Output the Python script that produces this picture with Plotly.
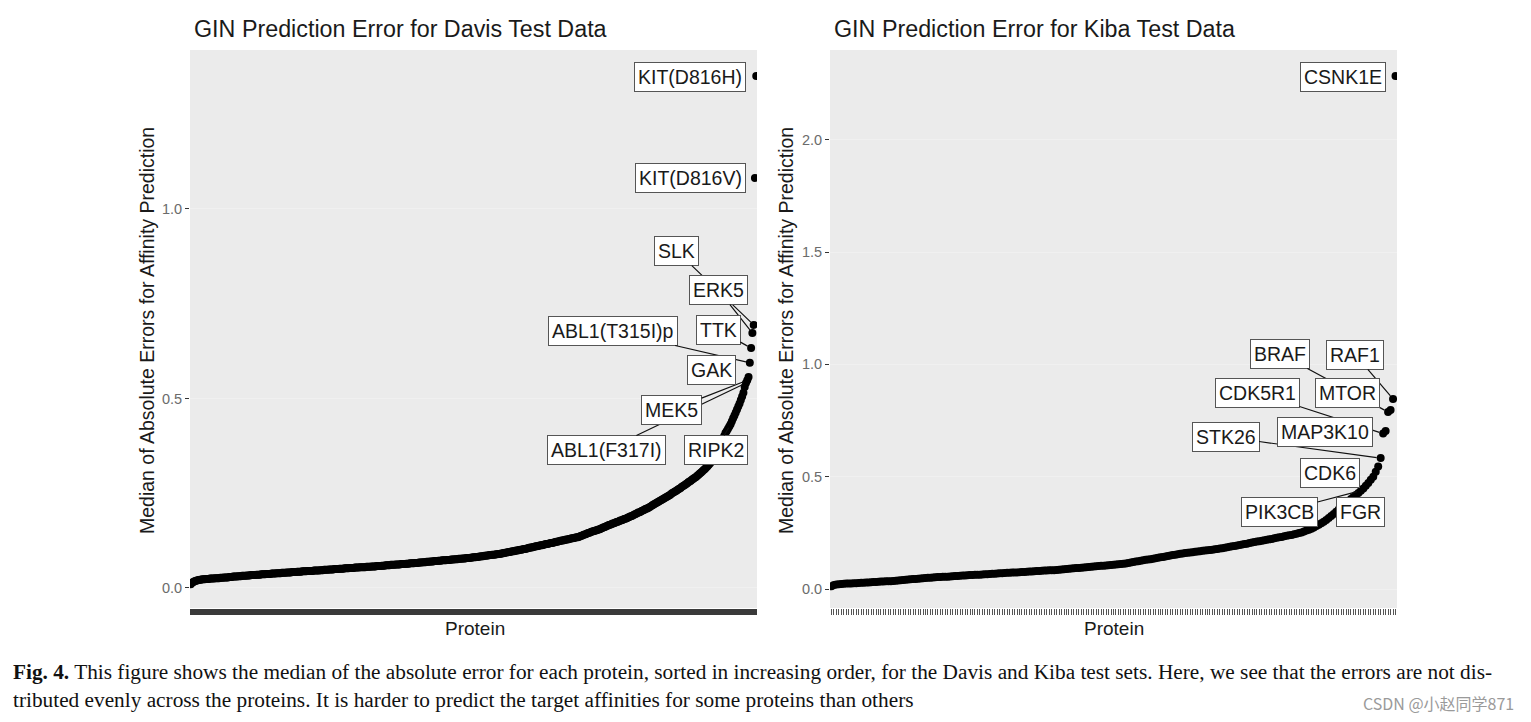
import plotly.graph_objects as go

# ---------------- data ----------------
davis_values = [
    0.010, 0.014, 0.016, 0.018, 0.019, 0.020, 0.021, 0.022, 0.022, 0.023,
    0.023, 0.023, 0.024, 0.024, 0.024, 0.025, 0.025, 0.025, 0.025, 0.026, 0.026,
    0.026, 0.026, 0.027, 0.027, 0.027, 0.028, 0.028, 0.028, 0.028, 0.029, 0.029, 0.029,
    0.030, 0.030, 0.030, 0.030, 0.031, 0.031, 0.031, 0.032, 0.032, 0.032, 0.032, 0.033, 0.033,
    0.033, 0.034, 0.034, 0.034, 0.034, 0.035, 0.035, 0.035, 0.035, 0.036, 0.036, 0.036, 0.036,
    0.037, 0.037, 0.037, 0.037, 0.038, 0.038, 0.038, 0.038, 0.039, 0.039, 0.039, 0.039, 0.040, 0.040, 0.040,
    0.040, 0.041, 0.041, 0.041, 0.041, 0.042, 0.042, 0.042, 0.042, 0.043, 0.043, 0.043, 0.043,
    0.044, 0.044, 0.044, 0.044, 0.045, 0.045, 0.045, 0.045, 0.045, 0.046, 0.046, 0.046, 0.046, 0.046,
    0.047, 0.047, 0.047, 0.048, 0.048, 0.048, 0.048, 0.049, 0.049, 0.049, 0.049, 0.050, 0.050,
    0.050, 0.050, 0.051, 0.051, 0.051, 0.051, 0.052, 0.052, 0.052, 0.052, 0.053, 0.053,
    0.053, 0.053, 0.054, 0.054, 0.054, 0.054, 0.055, 0.055, 0.055, 0.055, 0.055, 0.056, 0.056,
    0.056, 0.056, 0.057, 0.057, 0.057, 0.057, 0.058, 0.058, 0.058, 0.058, 0.059, 0.059, 0.059,
    0.060, 0.060, 0.060, 0.060, 0.061, 0.061, 0.061, 0.061, 0.062, 0.062, 0.062, 0.062, 0.063,
    0.063, 0.063, 0.063, 0.064, 0.064, 0.064, 0.065, 0.065, 0.065, 0.065, 0.066, 0.066,
    0.066, 0.067, 0.067, 0.067, 0.068, 0.068, 0.068, 0.069, 0.069, 0.069, 0.070, 0.070, 0.070,
    0.071, 0.071, 0.071, 0.072, 0.072, 0.072, 0.073, 0.073, 0.073, 0.073, 0.074, 0.074,
    0.074, 0.075, 0.075, 0.075, 0.076, 0.076, 0.076, 0.077, 0.077, 0.077, 0.078, 0.078, 0.078, 0.079,
    0.079, 0.079, 0.080, 0.080, 0.081, 0.081, 0.081, 0.082, 0.082, 0.083, 0.083, 0.084, 0.084, 0.085,
    0.085, 0.086, 0.086, 0.087, 0.087, 0.088, 0.088, 0.088, 0.089, 0.089, 0.090, 0.090, 0.091, 0.091, 0.092,
    0.093, 0.093, 0.094, 0.095, 0.095, 0.096, 0.097, 0.097, 0.098, 0.099,
    0.099, 0.100, 0.101, 0.101, 0.102, 0.103, 0.103, 0.104, 0.105, 0.106,
    0.107, 0.107, 0.108, 0.109, 0.110, 0.110, 0.111, 0.112, 0.113, 0.113,
    0.114, 0.115, 0.116, 0.116, 0.117, 0.118, 0.119, 0.119, 0.120,
    0.121, 0.122, 0.122, 0.123, 0.124, 0.125, 0.125, 0.126, 0.127, 0.128,
    0.128, 0.129, 0.130, 0.131, 0.131, 0.132, 0.133, 0.134, 0.134, 0.135,
    0.137, 0.138, 0.140, 0.141, 0.142, 0.144, 0.145, 0.146, 0.148, 0.149,
    0.150, 0.151, 0.152, 0.153, 0.154, 0.155, 0.157, 0.158, 0.160,
    0.161, 0.163, 0.164, 0.166, 0.167, 0.168, 0.170, 0.171, 0.172, 0.174,
    0.175, 0.176, 0.178, 0.179, 0.180, 0.182, 0.183, 0.184, 0.186, 0.187,
    0.189, 0.190, 0.192, 0.194, 0.195, 0.197, 0.199, 0.200, 0.202, 0.204, 0.205, 0.207, 0.209, 0.210, 0.212,
    0.214, 0.216, 0.218, 0.220, 0.222, 0.224, 0.226, 0.228, 0.230, 0.232,
    0.234, 0.236, 0.238, 0.240, 0.242, 0.244, 0.246, 0.249, 0.251, 0.253, 0.255, 0.257, 0.260, 0.262,
    0.264, 0.267, 0.269, 0.271, 0.274, 0.276, 0.279, 0.281, 0.283, 0.286, 0.288, 0.291, 0.293,
    0.296, 0.299, 0.302, 0.305, 0.308, 0.311, 0.314, 0.318, 0.321, 0.325, 0.329, 0.333, 0.338,
    0.344, 0.350, 0.357, 0.364, 0.371, 0.378, 0.385, 0.393, 0.401, 0.409,
    0.414, 0.420, 0.426, 0.432, 0.440, 0.448, 0.455, 0.463, 0.471, 0.479, 0.487, 0.496, 0.505, 0.515, 0.530,
    0.541, 0.548, 0.557, 0.594, 0.633, 0.673, 0.694, 1.082, 1.351,
]

kiba_values = [
    0.012, 0.018, 0.020, 0.021, 0.022, 0.023, 0.024, 0.025, 0.025, 0.026, 0.026,
    0.027, 0.028, 0.028, 0.029, 0.029, 0.030, 0.031, 0.031, 0.032, 0.033, 0.033, 0.034, 0.035, 0.035,
    0.036, 0.037, 0.038, 0.039, 0.040, 0.041, 0.042, 0.043, 0.044, 0.045, 0.046, 0.047, 0.048,
    0.049, 0.050, 0.050, 0.051, 0.052, 0.053, 0.053, 0.054, 0.055, 0.055, 0.056, 0.057, 0.058,
    0.058, 0.059, 0.060, 0.060, 0.061, 0.062, 0.062, 0.063, 0.064, 0.064, 0.065, 0.066, 0.066, 0.067,
    0.068, 0.068, 0.069, 0.070, 0.070, 0.071, 0.072, 0.072, 0.073, 0.074, 0.074, 0.075, 0.076,
    0.076, 0.077, 0.078, 0.078, 0.079, 0.080, 0.080, 0.081, 0.082, 0.082, 0.083, 0.084, 0.084, 0.085,
    0.086, 0.087, 0.088, 0.089, 0.090, 0.091, 0.092, 0.093, 0.094, 0.095, 0.096, 0.097, 0.098,
    0.099, 0.100, 0.101, 0.102, 0.103, 0.104, 0.105, 0.106, 0.107, 0.108, 0.109, 0.110, 0.111, 0.112,
    0.114, 0.116, 0.118, 0.120, 0.122, 0.124, 0.126, 0.128, 0.130, 0.131, 0.133,
    0.135, 0.137, 0.139, 0.141, 0.143, 0.145, 0.147, 0.149, 0.151, 0.153, 0.155, 0.157, 0.158, 0.160,
    0.161, 0.163, 0.164, 0.166, 0.167, 0.168, 0.170, 0.171, 0.172, 0.174, 0.175, 0.177, 0.178,
    0.180, 0.182, 0.184, 0.186, 0.188, 0.190, 0.192, 0.194, 0.196, 0.198, 0.200, 0.202, 0.205,
    0.207, 0.209, 0.211, 0.213, 0.215, 0.217, 0.219, 0.221, 0.223, 0.226, 0.228,
    0.230, 0.232, 0.235, 0.237, 0.239, 0.241, 0.244, 0.246, 0.249,
    0.252, 0.256, 0.260, 0.264, 0.268, 0.274, 0.280, 0.286, 0.293, 0.300,
    0.307, 0.316, 0.325, 0.334, 0.344, 0.354, 0.365, 0.376,
    0.383, 0.392, 0.401, 0.410, 0.419, 0.428, 0.438, 0.448, 0.460, 0.472, 0.486,
    0.500, 0.522, 0.545, 0.583, 0.692, 0.703, 0.788, 0.797, 0.846, 2.284,
]

davis_positions = list(range(1, len(davis_values) + 1))
kiba_positions = list(range(1, len(kiba_values) + 1))

# labelled proteins: name, rank (1-based position in sorted order), label centre (x, y), draw segment
# (ordered so that later boxes are painted over earlier segments)
davis_labels = [
    ("SLK", 440, 380.0, 0.889, True),
    ("ABL1(T315I)p", 437, 330.0, 0.678, True),
    ("ABL1(F317I)", 434, 325.0, 0.364, True),
    ("MEK5", 435, 376.0, 0.470, True),
    ("ERK5", 439, 412.5, 0.786, True),
    ("TTK", 438, 412.5, 0.681, True),
    ("RIPK2", 422, 410.5, 0.364, True),
    ("GAK", 436, 407.0, 0.575, False),
    ("KIT(D816H)", 442, 390.5, 1.348, False),
    ("KIT(D816V)", 441, 390.5, 1.082, False),
]
kiba_labels = [
    ("BRAF", 226, 182.5, 1.046, True),
    ("CDK5R1", 224, 173.2, 0.873, True),
    ("STK26", 223, 160.3, 0.677, True),
    ("PIK3CB", 215, 182.1, 0.343, True),
    ("RAF1", 228, 212.8, 1.042, True),
    ("MTOR", 227, 209.6, 0.873, False),
    ("MAP3K10", 225, 200.3, 0.699, False),
    ("CDK6", 222, 202.7, 0.516, False),
    ("FGR", 219, 214.8, 0.343, False),
    ("CSNK1E", 229, 207.6, 2.280, False),
]

titles = ["GIN Prediction Error for Davis Test Data", "GIN Prediction Error for Kiba Test Data"]
y_title = "Median of Absolute Errors for Affinity Prediction"
x_title = "Protein"
davis_yticks = [0.0, 0.5, 1.0]
kiba_yticks = [0.0, 0.5, 1.0, 1.5, 2.0]
caption_line1 = ("<b>Fig. 4.</b> This figure shows the median of the absolute error for each protein, sorted in increasing order, "
                 "for the Davis and Kiba test sets. Here, we see that the errors are not dis-")
caption_line2 = "tributed evenly across the proteins. It is harder to predict the target affinities for some proteins than others"
watermark = "CSDN @小赵同学871"

# ---------------- figure ----------------
W, H = 1531, 722
fig = go.Figure()

font_main = "Liberation Sans, Arial, sans-serif"
font_serif = "Liberation Serif, Times New Roman, serif"

fig.add_trace(go.Scatter(x=davis_positions, y=davis_values, mode="markers",
                         marker=dict(color="black", size=8), xaxis="x", yaxis="y",
                         showlegend=False, hoverinfo="y"))
fig.add_trace(go.Scatter(x=kiba_positions, y=kiba_values, mode="markers",
                         marker=dict(color="black", size=8), xaxis="x2", yaxis="y2",
                         showlegend=False, hoverinfo="y"))

ydom = [1 - 608 / H, 1 - 50 / H]
common_x = dict(showticklabels=False, ticks="outside", ticklen=6,
                showgrid=False, zeroline=False, showline=False)
common_y = dict(ticks="outside", ticklen=4, tickwidth=1, tickcolor="#333333",
                tickfont=dict(family=font_main, size=14.5, color="#6b6b6b"),
                showgrid=True, gridcolor="#F0F0F0", gridwidth=1, zeroline=False, showline=False)

fig.update_layout(
    width=W, height=H,
    margin=dict(l=0, r=0, t=0, b=0),
    paper_bgcolor="white",
    plot_bgcolor="#EBEBEB",
    xaxis=dict(domain=[190 / W, 757 / W], range=[0.4, len(davis_values) + 0.6],
               tickvals=davis_positions, tickwidth=2, tickcolor="#3a3a3a", **common_x),
    yaxis=dict(domain=ydom, range=[-0.0528, 1.4195], tickvals=davis_yticks,
               ticktext=[f"{v:.1f}" for v in davis_yticks], anchor="x", **common_y),
    xaxis2=dict(domain=[830 / W, 1397 / W], range=[0.4, len(kiba_values) + 0.6],
                tickvals=kiba_positions, tickwidth=1, tickcolor="#555555", anchor="y2", **common_x),
    yaxis2=dict(domain=ydom, range=[-0.0846, 2.400], tickvals=kiba_yticks,
                ticktext=[f"{v:.1f}" for v in kiba_yticks], anchor="x2", **common_y),
)

annotations = []


def add_labels(labels, values, xr, yr):
    for name, rank, lx, ly, seg in labels:
        px, py = rank, values[rank - 1]
        base = dict(text=name, font=dict(family=font_main, size=19.5, color="#1a1a1a"),
                    bgcolor="white", bordercolor="#555555", borderwidth=1, borderpad=3,
                    xref=xr, yref=yr)
        if seg:
            annotations.append(dict(x=px, y=py, ax=lx, ay=ly, axref=xr, ayref=yr,
                                    showarrow=True, arrowhead=0, arrowwidth=1.2,
                                    arrowcolor="#111111", standoff=4, **base))
        else:
            annotations.append(dict(x=lx, y=ly, showarrow=False, **base))


add_labels(davis_labels, davis_values, "x", "y")
add_labels(kiba_labels, kiba_values, "x2", "y2")

# titles
for t, xpix in zip(titles, [192, 832]):
    annotations.append(dict(text=t, x=xpix / W, y=1 - 29 / H, xref="paper", yref="paper",
                            xanchor="left", yanchor="middle", showarrow=False,
                            font=dict(family=font_main, size=23.3, color="#1a1a1a")))
# axis titles
for xpix in [147, 786]:
    annotations.append(dict(text=y_title, x=xpix / W, y=1 - 331 / H, xref="paper", yref="paper",
                            xanchor="center", yanchor="middle", showarrow=False, textangle=-90,
                            font=dict(family=font_main, size=19.5, color="#1a1a1a")))
for xpix in [475, 1114]:
    annotations.append(dict(text=x_title, x=xpix / W, y=1 - 628 / H, xref="paper", yref="paper",
                            xanchor="center", yanchor="middle", showarrow=False,
                            font=dict(family=font_main, size=19, color="#1a1a1a")))
# caption
annotations.append(dict(text=caption_line1, x=11 / W, y=1 - 672 / H, xref="paper", yref="paper",
                        xanchor="left", yanchor="middle", showarrow=False,
                        font=dict(family=font_serif, size=21.3, color="#111111")))
annotations.append(dict(text=caption_line2, x=11 / W, y=1 - 700 / H, xref="paper", yref="paper",
                        xanchor="left", yanchor="middle", showarrow=False,
                        font=dict(family=font_serif, size=21.3, color="#111111")))
annotations.append(dict(text=watermark, x=1516 / W, y=1 - 703 / H, xref="paper", yref="paper",
                        xanchor="right", yanchor="middle", showarrow=False,
                        font=dict(family="Noto Sans CJK SC, sans-serif", size=16, color="#9a9a9a")))

fig.update_layout(annotations=annotations)

fig.write_html("out.html")
